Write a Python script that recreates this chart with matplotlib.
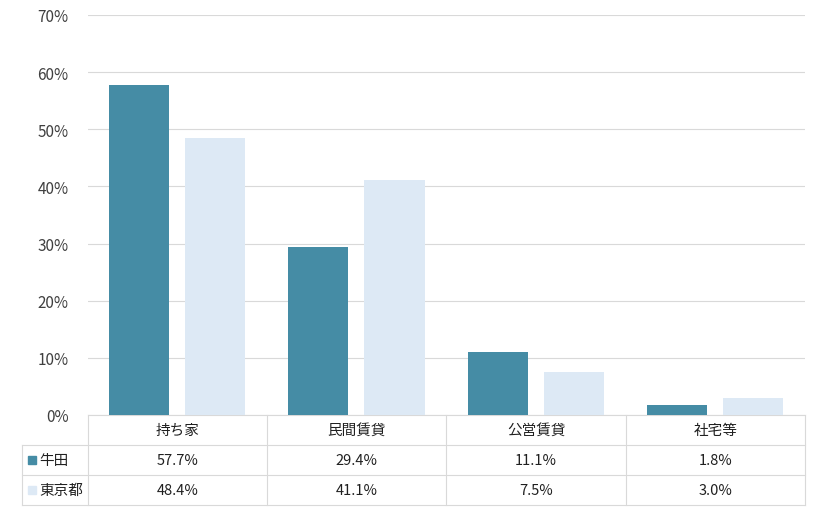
import matplotlib

matplotlib.use("Agg")
import matplotlib.pyplot as plt
import numpy as np
from matplotlib.lines import Line2D
from matplotlib.patches import Rectangle

plt.rcParams["font.family"] = ["Noto Sans CJK JP", "DejaVu Sans"]

categories = ["持ち家", "民間賃貸", "公営賃貸", "社宅等"]
series_names = ["牛田", "東京都"]
ushita = [57.7, 29.4, 11.1, 1.8]
tokyo = [48.4, 41.1, 7.5, 3.0]
colors = ["#458CA5", "#DDE9F5"]
grid_color = "#D9D9D9"

W, H = 820, 510
fig = plt.figure(figsize=(W / 100, H / 100), dpi=100)
left, right, top, bottom = 88, 805, 16, 416
ax = fig.add_axes([left / W, 1 - bottom / H, (right - left) / W, (bottom - top) / H])

x = np.arange(len(categories))
width = 0.335
ax.bar(x - 0.215, ushita, width, color=colors[0], zorder=3)
ax.bar(x + 0.21, tokyo, width, color=colors[1], zorder=3)
ax.set_xlim(-0.5, len(categories) - 0.5)
ax.set_ylim(0, 70)
ax.set_yticks(range(0, 71, 10))
ax.set_yticklabels([f"{v}%" for v in range(0, 71, 10)], fontsize=11, color="#404040")
ax.set_xticks([])
ax.grid(axis="y", color=grid_color, linewidth=0.8, zorder=0)
for s in ["top", "right", "left"]:
    ax.spines[s].set_visible(False)
ax.spines["bottom"].set_color(grid_color)
ax.tick_params(axis="y", length=0, pad=14)


def fx(px):
    return px / W


def fy(py):
    return 1 - py / H


def hline(y, x0, x1):
    fig.add_artist(Line2D([fx(x0), fx(x1)], [fy(y), fy(y)], color=grid_color, lw=0.8))


def vline(xp, y0, y1):
    fig.add_artist(Line2D([fx(xp), fx(xp)], [fy(y0), fy(y1)], color=grid_color, lw=0.8))


rows = [416, 446, 476, 506]
col_w = (right - left) / len(categories)
for y in rows[1:]:
    hline(y, 22, right)
for i in range(len(categories) + 1):
    vline(left + i * col_w, 416, 506)
vline(22, 446, 506)

for i, cat in enumerate(categories):
    cx = left + (i + 0.5) * col_w
    fig.text(fx(cx), fy(431), cat, ha="center", va="center", fontsize=10.5, color="#202020")
for r, (name, vals) in enumerate(zip(series_names, [ushita, tokyo])):
    cy = (rows[r + 1] + rows[r + 2]) / 2
    fig.add_artist(Rectangle((fx(28), fy(cy + 4)), 8 / W, 8 / H, color=colors[r],
                             transform=fig.transFigure))
    fig.text(fx(39), fy(cy), name, ha="left", va="center", fontsize=10.5, color="#202020")
    for i, v in enumerate(vals):
        cx = left + (i + 0.5) * col_w
        fig.text(fx(cx), fy(cy), f"{v:.1f}%", ha="center", va="center", fontsize=10.5,
                 color="#202020")

fig.savefig("out.png", dpi=100)
